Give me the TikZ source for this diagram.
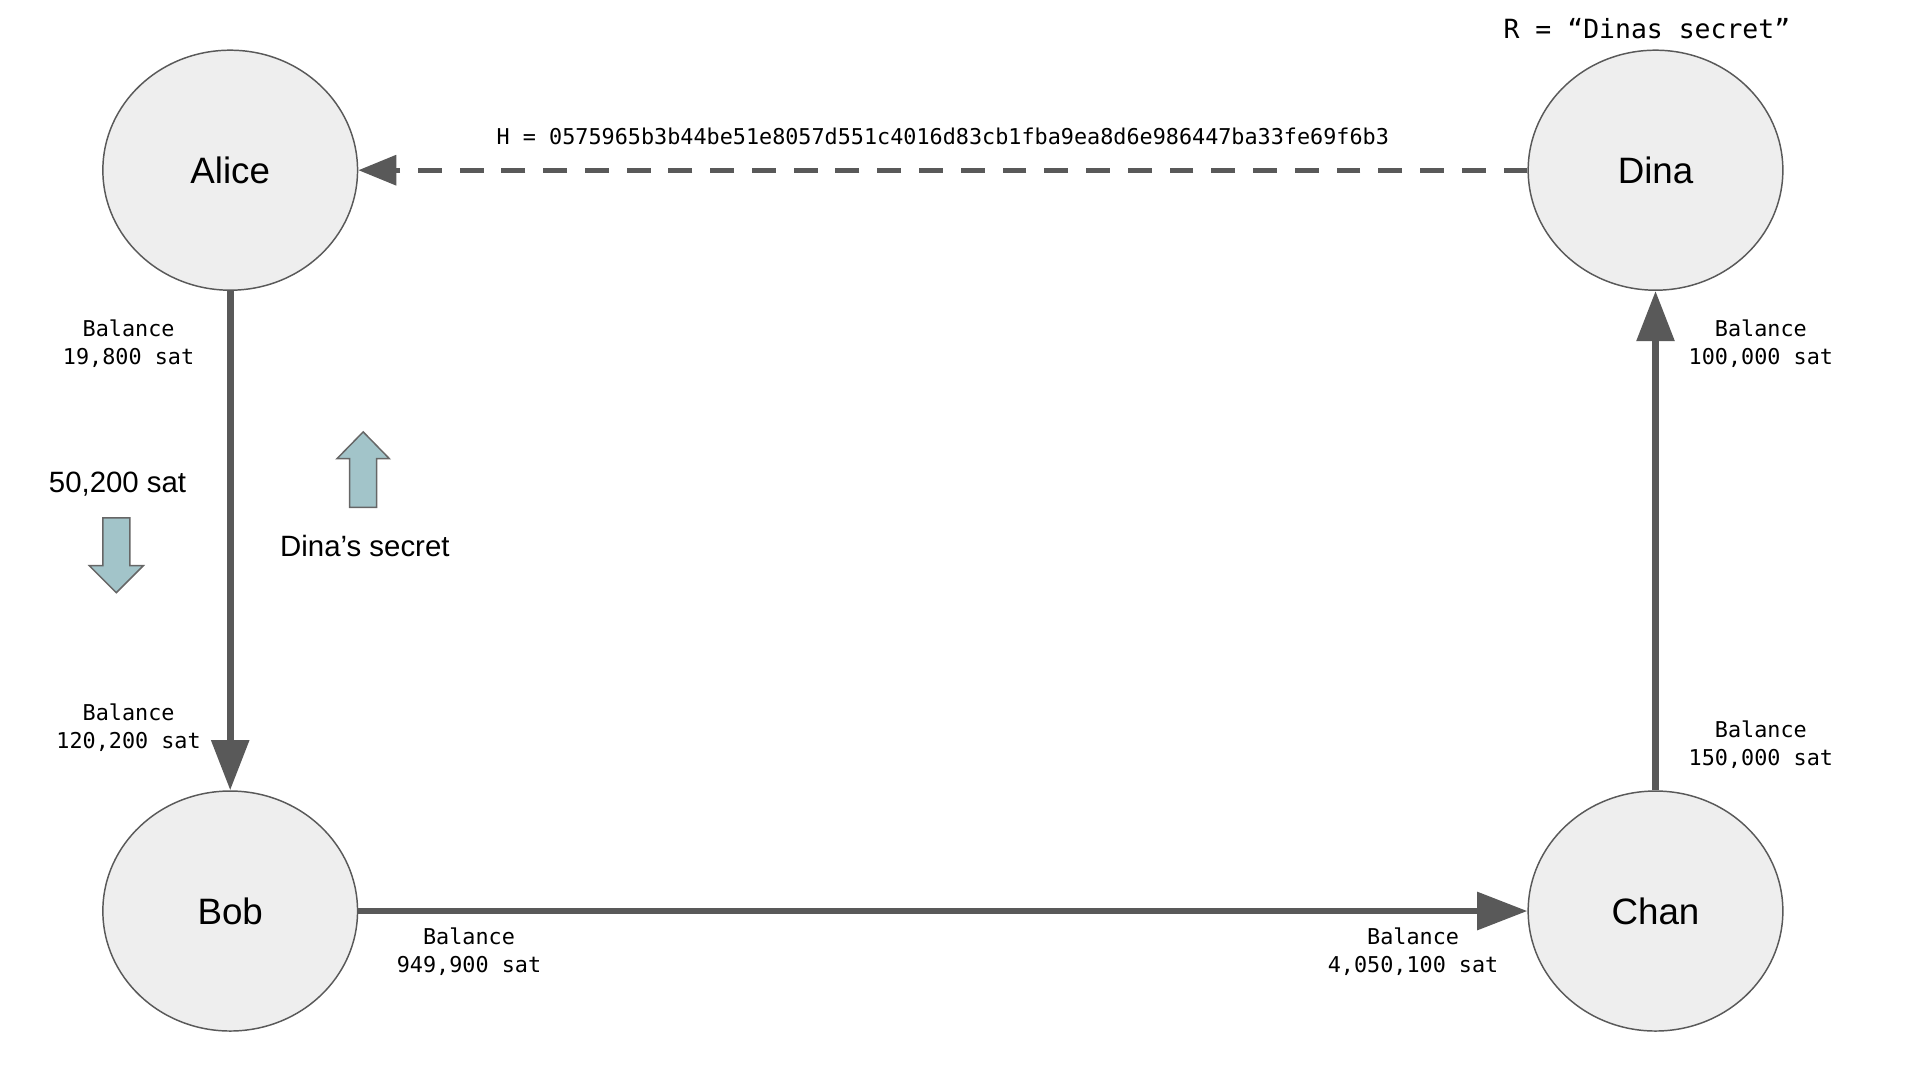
\documentclass[tikz,border=0pt]{standalone}
\usepackage{fontspec}
\setmainfont{Liberation Sans}
\newfontfamily\monofont{DejaVu Sans Mono}
\usetikzlibrary{shapes.geometric,arrows.meta}
\definecolor{edgegray}{HTML}{595959}
\definecolor{nodefill}{HTML}{EEEEEE}
\definecolor{blockfill}{HTML}{A2C4C9}
\definecolor{blockline}{HTML}{666666}
\tikzset{
  party/.style={ellipse, draw=edgegray, line width=1.2pt, fill=nodefill,
    minimum width=208pt, minimum height=196pt, inner sep=0pt,
    font=\fontsize{30}{36}\selectfont},
  flow/.style={draw=edgegray, line width=5.5pt,
    -{Triangle[length=41pt,width=30pt]}},
  hashflow/.style={draw=edgegray, line width=4.2pt,
    dash pattern=on 19.5pt off 14.6pt,
    -{Triangle[length=31pt,width=24pt]}},
  monolabel/.style={inner sep=0pt, align=center,
    font=\monofont\fontsize{17.8}{23}\selectfont},
  biglabel/.style={inner sep=0pt, font=\monofont\fontsize{21.6}{26}\selectfont},
  sanslabel/.style={inner sep=0pt, font=\fontsize{24}{28}\selectfont},
  blockarrow/.style={fill=blockfill, draw=blockline, line width=1.2pt, line join=miter}
}
\begin{document}
\begin{tikzpicture}[x=1pt,y=-1pt]
\useasboundingbox (0,0) rectangle (1568,882);
\node[party] (alice) at (188,139) {Alice};
\node[party] (dina) at (1352,139) {Dina};
\node[party] (bob) at (188,744) {Bob};
\node[party] (chan) at (1352,744) {Chan};

\draw[flow] (alice.south) -- (bob.north);
\draw[flow] (bob.east) -- (chan.west);
\draw[flow] (chan.north) -- (dina.south);
\draw[hashflow] (dina.west) -- (alice.east);

\node[monolabel] (balA) at (105,281) {Balance\\19,800 sat};
\node[monolabel] (balB1) at (105,594) {Balance\\120,200 sat};
\node[monolabel] (balB2) at (383,777) {Balance\\949,900 sat};
\node[monolabel] (balC1) at (1154,777) {Balance\\4,050,100 sat};
\node[monolabel] (balD) at (1438,281) {Balance\\100,000 sat};
\node[monolabel] (balC2) at (1438,608) {Balance\\150,000 sat};
\node[biglabel] (rtext) at (1345,23) {R = “Dinas secret”};
\node[monolabel] (htext) at (770,111) {H = 0575965b3b44be51e8057d551c4016d83cb1fba9ea8d6e986447ba33fe69f6b3};

\node[sanslabel] (amount) at (96,395) {50,200 sat};
\node[sanslabel] (secret) at (298,446) {Dina’s secret};

% down block arrow (payment)
\draw[blockarrow] (84,423) -- (106,423) -- (106,462) -- (117,462) -- (95,484)
  -- (73,462) -- (84,462) -- cycle;
% up block arrow (secret)
\draw[blockarrow] (296.6,352.7) -- (318,374.6) -- (307.6,374.6) -- (307.6,414.4)
  -- (285.6,414.4) -- (285.6,374.6) -- (275.2,374.6) -- cycle;
\end{tikzpicture}
\end{document}
